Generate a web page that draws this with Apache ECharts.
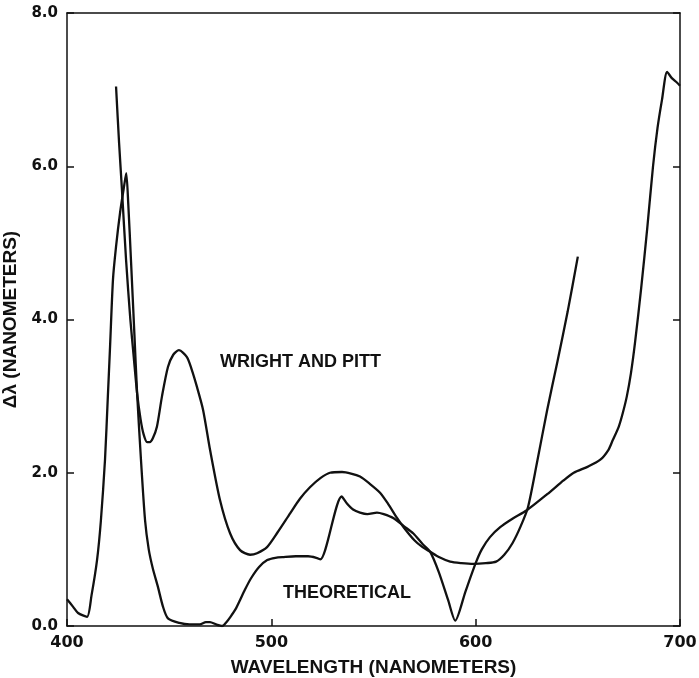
<!DOCTYPE html>
<html>
<head>
<meta charset="utf-8">
<script src="https://cdn.jsdelivr.net/npm/echarts@6/dist/echarts.min.js"></script>
<style>
  html, body { margin: 0; padding: 0; background: #fff; }
  #chart { width: 699px; height: 678px; }
</style>
</head>
<body>
<div id="chart"></div>
<script>
// Wavelength discrimination: Δλ against wavelength (nm)
const theoreticalNm = [
  400, 403, 405.4, 409.8, 412, 414.7, 416.6, 418.6, 420, 421, 422.5, 424, 426, 428, 429,
  430, 431.3, 433, 434.3, 436.2, 438.2, 440, 442, 444.5, 447, 449.4, 455, 460, 465, 468,
  470, 473, 476, 478, 480, 482.5, 484.7, 487, 490, 494, 498, 502, 506, 512, 518, 522,
  524, 534.4, 537, 540, 543.4, 547, 551.7, 555, 559.6, 565, 569.4, 574, 577.7, 582,
  586.5, 590, 595, 600, 603, 607, 612, 618, 625, 635, 643, 648, 655, 661, 665, 667,
  670, 672, 674, 676, 678, 681, 684, 686.8, 689, 691.2, 693.7, 696, 698.6, 700
];
const theoreticalDelta = [
  0.35, 0.25, 0.17, 0.12, 0.4, 0.86, 1.38, 2.17, 3.0, 3.6, 4.52, 4.95, 5.4, 5.75, 5.91,
  5.5, 4.78, 3.8, 3.04, 2.17, 1.38, 1.0, 0.75, 0.51, 0.25, 0.1, 0.04, 0.02, 0.02, 0.05,
  0.05, 0.02, 0.0, 0.05, 0.12, 0.22, 0.34, 0.47, 0.62, 0.77, 0.86, 0.89, 0.9, 0.91, 0.91, 0.89,
  0.87, 1.69, 1.6, 1.52, 1.48, 1.46, 1.48, 1.46, 1.41, 1.3, 1.21, 1.07, 0.97, 0.7,
  0.34, 0.07, 0.45, 0.82, 1.0, 1.16, 1.29, 1.4, 1.51, 1.72, 1.9, 2.0, 2.08, 2.17, 2.3, 2.42,
  2.6, 2.78, 3.0, 3.3, 3.7, 4.41, 5.2, 6.0, 6.5, 6.87, 7.23, 7.15, 7.09, 7.05
];

const wrightPittNm = [
  424, 425.5, 426.9, 428.9, 431, 432.7, 434.3, 436, 437.5, 439.2, 440.5, 442, 444, 446.5,
  449.4, 452, 454.8, 458.7, 461, 463.6, 466.6, 470, 474.9, 479.8, 484.7, 489.6, 493,
  497.9, 503, 509.2, 514, 518.9, 524, 528.7, 534.6, 539, 543.4, 548, 553.2, 557, 561.5,
  565, 570, 574, 577.7, 582, 587.5, 593, 599, 605, 610, 614, 618, 622, 625.6, 630, 635,
  640, 645, 650
];
const wrightPittDelta = [
  7.04, 6.3, 5.69, 4.78, 4.0, 3.5, 3.04, 2.7, 2.5, 2.4, 2.4, 2.45, 2.6, 3.0,
  3.38, 3.54, 3.6, 3.51, 3.35, 3.12, 2.82, 2.3, 1.64, 1.21, 0.99, 0.93, 0.95,
  1.03, 1.22, 1.47, 1.66, 1.81, 1.93, 2.0, 2.01, 1.99, 1.95, 1.86, 1.74, 1.6, 1.41,
  1.28, 1.12, 1.03, 0.97, 0.9, 0.84, 0.82, 0.81, 0.82, 0.84, 0.93, 1.08, 1.3, 1.55, 2.13, 2.82,
  3.45, 4.1, 4.82
];

const xTicks = [400, 500, 600, 700];
const yTickLabels = ['0.0', '2.0', '4.0', '6.0', '8.0'];

const pairs = (xs, ys) => xs.map((x, i) => [x, ys[i]]);

const INK = '#111';
const LABEL_FONT = 'DejaVu Sans';
const NAME_FONT = 'Liberation Sans';

const chart = echarts.init(document.getElementById('chart'), null, { renderer: 'canvas' });

const lineSeries = (name, data) => ({
  name,
  type: 'line',
  data,
  showSymbol: false,
  smooth: 0.25,
  lineStyle: { color: INK, width: 2.3 },
  animation: false,
  z: 3
});

chart.setOption({
  backgroundColor: '#fff',
  animation: false,
  grid: { left: 67, right: 19, top: 13, bottom: 52, containLabel: false, outerBoundsMode: 'none' },
  xAxis: [
    {
      type: 'value',
      min: xTicks[0],
      max: xTicks[xTicks.length - 1],
      interval: xTicks[1] - xTicks[0],
      name: 'WAVELENGTH (NANOMETERS)',
      nameLocation: 'middle',
      nameGap: 32,
      nameTextStyle: { fontFamily: NAME_FONT, fontWeight: 'bold', fontSize: 19, color: INK },
      axisLine: { show: true, onZero: false, lineStyle: { color: INK, width: 1.5 } },
      axisTick: { show: true, inside: true, length: 7, lineStyle: { color: INK, width: 1.5 } },
      axisLabel: { margin: 9, fontFamily: LABEL_FONT, fontWeight: 'bold', fontSize: 16, color: INK },
      splitLine: { show: false }
    },
    {
      type: 'value',
      position: 'top',
      min: xTicks[0],
      max: xTicks[xTicks.length - 1],
      interval: xTicks[1] - xTicks[0],
      axisLine: { show: true, onZero: false, lineStyle: { color: INK, width: 1.5 } },
      axisTick: { show: false },
      axisLabel: { show: false },
      splitLine: { show: false }
    }
  ],
  yAxis: [
    {
      type: 'value',
      min: 0,
      max: 8,
      interval: 2,
      name: 'Δλ (NANOMETERS)',
      nameLocation: 'middle',
      nameGap: 40,
      nameTextStyle: { fontFamily: NAME_FONT, fontWeight: 'bold', fontSize: 19, color: INK },
      axisLine: { show: true, onZero: false, lineStyle: { color: INK, width: 1.5 } },
      axisTick: { show: true, inside: true, length: 7, lineStyle: { color: INK, width: 1.5 } },
      axisLabel: {
        margin: 9,
        fontFamily: LABEL_FONT,
        fontWeight: 'bold',
        fontSize: 15,
        color: INK,
        formatter: (v) => yTickLabels[Math.round(v / 2)]
      },
      splitLine: { show: false }
    },
    {
      type: 'value',
      position: 'right',
      min: 0,
      max: 8,
      interval: 2,
      axisLine: { show: true, onZero: false, lineStyle: { color: INK, width: 1.5 } },
      axisTick: { show: true, inside: true, length: 7, lineStyle: { color: INK, width: 1.5 } },
      axisLabel: { show: false },
      splitLine: { show: false }
    }
  ],
  series: [
    lineSeries('Theoretical', pairs(theoreticalNm, theoreticalDelta)),
    lineSeries('Wright and Pitt', pairs(wrightPittNm, wrightPittDelta))
  ],
  graphic: [
    {
      type: 'text',
      x: 220,
      y: 362,
      style: { text: 'WRIGHT AND PITT', font: 'bold 18px "Liberation Sans"', fill: INK, verticalAlign: 'middle' }
    },
    {
      type: 'text',
      x: 283,
      y: 593,
      style: { text: 'THEORETICAL', font: 'bold 18px "Liberation Sans"', fill: INK, verticalAlign: 'middle' }
    }
  ]
});
</script>
</body>
</html>
